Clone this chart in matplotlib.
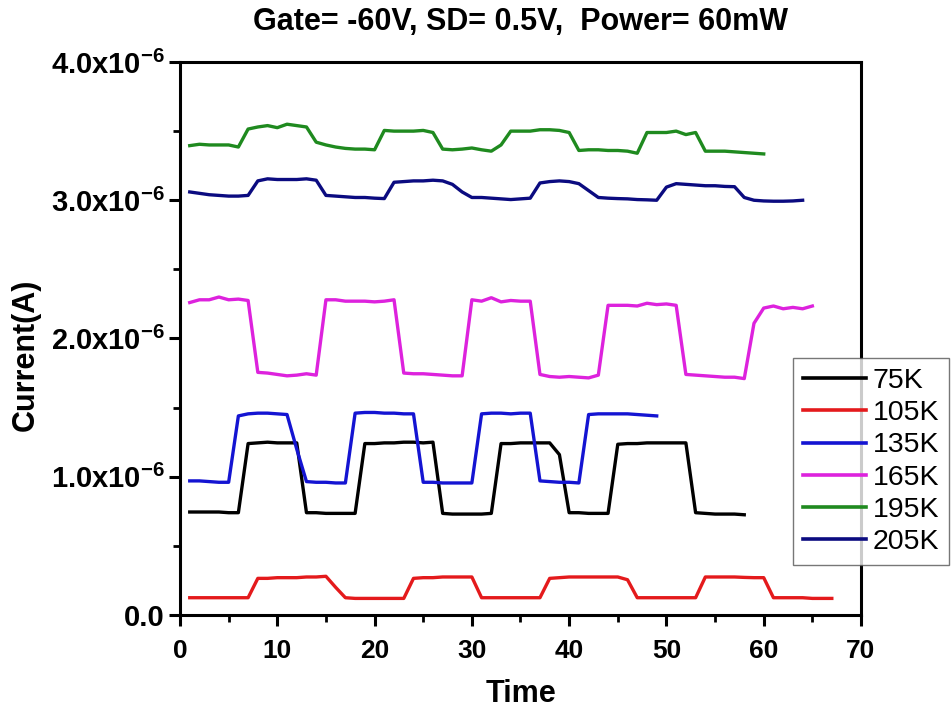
import matplotlib
matplotlib.use("Agg")
import matplotlib.pyplot as plt
from matplotlib.ticker import MultipleLocator, FuncFormatter

plt.rcParams['font.family'] = ['Liberation Sans', 'DejaVu Sans']
plt.rcParams['mathtext.fontset'] = 'custom'
plt.rcParams['mathtext.rm'] = 'Liberation Sans:bold'
plt.rcParams['mathtext.bf'] = 'Liberation Sans:bold'
plt.rcParams['mathtext.default'] = 'rm'

title = "Gate= -60V, SD= 0.5V,  Power= 60mW"
labels = ["75K", "105K", "135K", "165K", "195K", "205K"]
colors = ["#000000", "#e41a1c", "#1414d2", "#dd22dd", "#1f8a1f", "#0b0b80"]

# 75K
t_75 = list(range(1, 59))
i_75 = [0.745, 0.745, 0.745, 0.745, 0.74, 0.74,
        1.24, 1.245, 1.25, 1.245, 1.245, 1.245,
        0.74, 0.74, 0.735, 0.735, 0.735, 0.735,
        1.24, 1.24, 1.245, 1.245, 1.25, 1.25, 1.245, 1.25,
        0.735, 0.73, 0.73, 0.73, 0.73, 0.735,
        1.24, 1.24, 1.245, 1.245, 1.245, 1.245,
        1.16,
        0.74, 0.74, 0.735, 0.735, 0.735,
        1.235, 1.24, 1.24, 1.245, 1.245, 1.245, 1.245, 1.245,
        0.74, 0.735, 0.73, 0.73, 0.73, 0.725]

# 105K
t_105 = list(range(1, 68))
i_105 = [0.125] * 7 + [0.265, 0.265, 0.27, 0.27, 0.27, 0.275, 0.275, 0.28] + [0.2] + \
        [0.125, 0.12, 0.12, 0.12, 0.12, 0.12, 0.12] + \
        [0.265, 0.27, 0.27, 0.275, 0.275, 0.275, 0.275] + \
        [0.125, 0.125, 0.125, 0.125, 0.125, 0.125, 0.125] + \
        [0.265, 0.27, 0.275, 0.275, 0.275, 0.275, 0.275, 0.275] + [0.255] + \
        [0.125, 0.125, 0.125, 0.125, 0.125, 0.125, 0.125] + \
        [0.275, 0.275, 0.275, 0.275, 0.272, 0.27, 0.27] + \
        [0.125, 0.125, 0.125, 0.125, 0.12, 0.12, 0.12]

# 135K
t_135 = list(range(1, 50))
i_135 = [0.97, 0.97, 0.965, 0.96, 0.96,
         1.44, 1.455, 1.46, 1.46, 1.455, 1.45,
         1.2,
         0.965, 0.96, 0.96, 0.955, 0.955,
         1.46, 1.465, 1.465, 1.46, 1.46, 1.455, 1.455,
         0.96, 0.96, 0.955, 0.955, 0.955, 0.955,
         1.455, 1.46, 1.46, 1.455, 1.46, 1.46,
         0.97, 0.965, 0.96, 0.96, 0.955,
         1.45, 1.455, 1.455, 1.455, 1.455, 1.45, 1.445, 1.44]

# 165K
t_165 = list(range(1, 66))
i_165 = [2.26, 2.28, 2.28, 2.30, 2.28, 2.285, 2.275,
         1.755, 1.75, 1.74, 1.73, 1.735, 1.745, 1.735,
         2.28, 2.28, 2.27, 2.27, 2.27, 2.265, 2.27, 2.28,
         1.75, 1.745, 1.745, 1.74, 1.735, 1.73, 1.73,
         2.28, 2.27, 2.295, 2.265, 2.275, 2.27, 2.27,
         1.74, 1.725, 1.72, 1.725, 1.72, 1.715, 1.735,
         2.24, 2.24, 2.24, 2.235, 2.255, 2.245, 2.25, 2.24,
         1.74, 1.735, 1.73, 1.725, 1.72, 1.72, 1.71,
         2.11, 2.22, 2.235, 2.215, 2.225, 2.215, 2.235]

# 195K
t_195 = list(range(1, 61))
i_195 = [3.395, 3.405, 3.40, 3.40, 3.40, 3.385,
         3.515, 3.53, 3.54, 3.525, 3.55, 3.54, 3.53,
         3.42, 3.40, 3.385, 3.375, 3.37, 3.37, 3.365,
         3.505, 3.50, 3.50, 3.50, 3.505, 3.49,
         3.37, 3.365, 3.37, 3.378, 3.365, 3.355, 3.40,
         3.50, 3.50, 3.50, 3.51, 3.51, 3.505, 3.49,
         3.36, 3.365, 3.365, 3.36, 3.36, 3.355, 3.34,
         3.49, 3.49, 3.49, 3.50, 3.475, 3.49,
         3.355, 3.355, 3.355, 3.35, 3.345, 3.34, 3.335]

# 205K
t_205 = list(range(1, 65))
i_205 = [3.06, 3.05, 3.04, 3.035, 3.03, 3.03, 3.035,
         3.14, 3.155, 3.15, 3.15, 3.15, 3.155, 3.145,
         3.035, 3.03, 3.025, 3.02, 3.02, 3.015, 3.012,
         3.13, 3.135, 3.14, 3.14, 3.145, 3.14, 3.115,
         3.06, 3.02, 3.02, 3.015, 3.01, 3.005, 3.01, 3.015,
         3.125, 3.135, 3.14, 3.135, 3.12,
         3.07, 3.02, 3.015, 3.012, 3.01, 3.005, 3.003, 3.0,
         3.095, 3.12, 3.115, 3.11, 3.105, 3.105, 3.1, 3.098,
         3.02, 3.0, 2.995, 2.993, 2.993, 2.995, 3.0]

series_t = [t_75, t_105, t_135, t_165, t_195, t_205]
series_i = [i_75, i_105, i_135, i_165, i_195, i_205]

fig = plt.figure(figsize=(9.51, 7.12), dpi=100)
ax = fig.add_axes([180 / 951, 97 / 712, 681 / 951, 553 / 712])

handles = []
for t, i, c, lab in zip(series_t, series_i, colors, labels):
    h, = ax.plot(t, [v * 1e-6 for v in i], color=c, lw=2.4, label=lab,
                 solid_joinstyle='round')
    handles.append(h)

ax.set_xlim(0, 70)
ax.set_ylim(0, 4.0e-6)
ax.xaxis.set_major_locator(MultipleLocator(10))
ax.xaxis.set_minor_locator(MultipleLocator(5))
ax.yaxis.set_major_locator(MultipleLocator(1.0e-6))
ax.yaxis.set_minor_locator(MultipleLocator(0.5e-6))


def yfmt(v, pos):
    if abs(v) < 1e-12:
        return "0.0"
    return r"$%.1f\mathrm{x}10^{-6}$" % (v * 1e6)


ax.yaxis.set_major_formatter(FuncFormatter(yfmt))

for s in ax.spines.values():
    s.set_linewidth(2.2)
ax.tick_params(which='major', direction='out', length=8, width=2.2)
ax.tick_params(axis='x', which='major', labelsize=19, pad=9)
ax.tick_params(axis='y', which='major', labelsize=21, pad=3)
ax.tick_params(which='minor', direction='out', length=5, width=2.0)
for lab in ax.get_xticklabels() + ax.get_yticklabels():
    lab.set_fontweight('bold')

ax.set_xlabel("Time", fontsize=22, fontweight='bold', labelpad=12)
ax.set_ylabel("Current(A)", fontsize=22, fontweight='bold')
ax.yaxis.set_label_coords(-0.205, 0.47)
ax.set_title(title, fontsize=22, fontweight='bold', pad=23)

leg = fig.legend(handles=handles, labels=labels, loc='upper left',
                 bbox_to_anchor=(793 / 951, 1 - 358 / 712),
                 fontsize=20.5, frameon=True, fancybox=False,
                 edgecolor='#555555', handlelength=2.2, handletextpad=0.25,
                 labelspacing=0.22, borderpad=0.35, borderaxespad=0)
leg.get_frame().set_linewidth(1.0)
for l in leg.get_lines():
    l.set_linewidth(2.6)

fig.savefig("out.png", dpi=100)
